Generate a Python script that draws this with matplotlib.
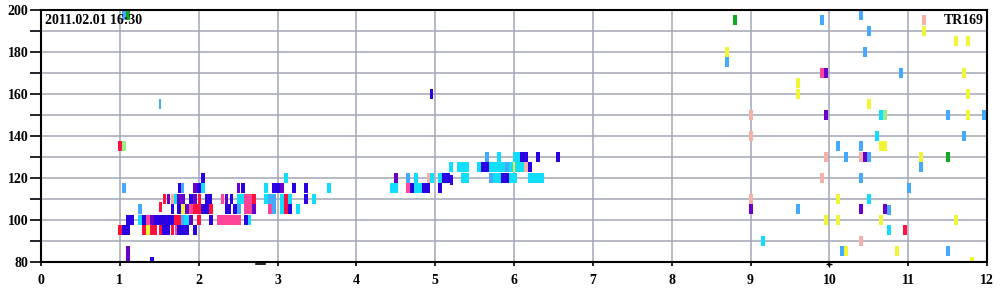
import matplotlib
matplotlib.use("Agg")
import matplotlib.pyplot as plt
from matplotlib.ticker import MultipleLocator

plt.rcParams['font.family'] = ['Liberation Serif', 'DejaVu Serif']

# cells: (x_start, x_end, y_centre)
blue = [(1.03, 1.13, 95), (1.54, 1.64, 95), (1.72, 1.88, 95), (1.93, 1.98, 95),
        (1.08, 1.18, 100), (1.28, 1.33, 100), (1.43, 1.69, 100), (2.13, 2.18, 100),
        (2.575, 2.625, 100), (1.65, 1.69, 105), (1.72, 1.77, 105), (2.03, 2.13, 105),
        (2.33, 2.41, 105), (2.44, 2.49, 105), (3.13, 3.18, 105), (1.88, 1.93, 110),
        (2.08, 2.17, 110), (2.40, 2.44, 110), (2.575, 2.625, 110), (3.34, 3.39, 110),
        (1.74, 1.78, 115), (1.98, 2.03, 115), (2.54, 2.59, 115), (2.93, 3.03, 115),
        (3.18, 3.23, 115), (3.34, 3.39, 115), (2.03, 2.08, 120), (1.38, 1.43, 80),
        (4.68, 4.73, 115), (4.83, 4.93, 115), (5.04, 5.09, 115), (5.09, 5.19, 120),
        (5.19, 5.23, 119), (5.84, 5.94, 120), (5.58, 5.68, 125), (6.18, 6.23, 125),
        (6.08, 6.18, 130), (6.28, 6.33, 130), (6.53, 6.58, 130), (4.93, 4.97, 160)]
purple = [(1.38, 1.43, 100), (1.88, 1.93, 100), (1.83, 1.88, 105), (2.68, 2.73, 105),
          (1.60, 1.64, 110), (1.72, 1.83, 110), (2.33, 2.37, 110), (1.93, 1.98, 110),
          (1.93, 1.98, 115), (2.49, 2.525, 115), (3.03, 3.08, 115), (1.08, 1.13, 85),
          (1.08, 1.13, 82.5), (4.48, 4.53, 120), (9.93, 9.98, 170), (9.93, 9.98, 150),
          (8.98, 9.03, 105), (10.38, 10.43, 105), (10.43, 10.48, 130), (10.68, 10.73, 105)]
red = [(0.98, 1.03, 95), (1.28, 1.33, 95), (1.38, 1.47, 95), (1.50, 1.54, 95),
       (1.65, 1.69, 95), (1.69, 1.77, 100), (1.98, 2.03, 100), (1.50, 1.54, 106),
       (1.93, 1.98, 105), (1.98, 2.03, 105), (2.13, 2.18, 105), (1.55, 1.59, 110),
       (1.99, 2.03, 110), (2.68, 2.73, 110), (3.08, 3.13, 110), (3.08, 3.13, 105),
       (0.98, 1.03, 135), (10.93, 10.98, 95)]
pink = [(1.70, 1.72, 95), (1.33, 1.38, 100), (2.23, 2.54, 100), (1.88, 1.93, 105),
        (2.575, 2.68, 105), (2.88, 2.93, 105), (2.28, 2.32, 110), (2.575, 2.68, 110),
        (4.63, 4.68, 115), (9.88, 9.93, 170)]
salmon = [(1.65, 1.69, 110), (4.90, 4.93, 120), (6.13, 6.18, 125), (8.98, 9.03, 150),
          (8.98, 9.03, 140), (8.98, 9.03, 110), (9.93, 9.98, 130), (9.88, 9.93, 120),
          (10.38, 10.43, 130), (10.38, 10.43, 90), (11.18, 11.23, 195)]
yellow = [(1.33, 1.38, 95), (1.77, 1.83, 105), (5.99, 6.01, 125), (8.68, 8.73, 180),
          (9.58, 9.63, 165), (9.58, 9.63, 160), (11.18, 11.23, 190), (11.58, 11.63, 185),
          (11.73, 11.79, 185), (11.68, 11.73, 170), (11.73, 11.79, 160), (11.99, 12.05, 160),
          (10.48, 10.53, 155), (11.73, 11.79, 150), (11.99, 12.05, 145), (10.63, 10.73, 135),
          (11.14, 11.19, 130), (10.08, 10.13, 110), (9.93, 9.98, 100), (10.08, 10.13, 100),
          (10.63, 10.68, 100), (11.58, 11.63, 100), (10.19, 10.24, 85), (10.83, 10.88, 85),
          (11.78, 11.83, 80)]
cyan = [(1.23, 1.28, 100), (1.82, 1.88, 100), (2.625, 2.665, 100), (1.69, 1.72, 110),
        (2.49, 2.575, 110), (3.44, 3.49, 110), (3.13, 3.18, 110), (3.23, 3.28, 105),
        (3.03, 3.08, 105), (3.03, 3.08, 110), (2.83, 2.88, 110), (2.83, 2.88, 115),
        (2.03, 2.08, 115), (3.63, 3.68, 115), (3.08, 3.13, 120),
        (4.43, 4.53, 115), (4.73, 4.83, 115), (4.73, 4.78, 120), (4.93, 4.99, 120),
        (5.04, 5.09, 120), (5.33, 5.43, 120), (5.73, 5.84, 120), (5.94, 6.04, 120),
        (6.18, 6.38, 120), (5.18, 5.23, 125), (5.28, 5.43, 125), (5.53, 5.58, 125),
        (5.68, 5.89, 125), (5.94, 5.99, 125), (6.01, 6.13, 125), (5.78, 5.84, 130),
        (5.99, 6.08, 130), (9.13, 9.18, 90), (10.63, 10.68, 150), (10.58, 10.63, 140),
        (10.48, 10.53, 110), (10.73, 10.78, 95)]
lightblue = [(1.77, 1.82, 100), (1.23, 1.28, 105), (2.49, 2.54, 105), (2.93, 2.98, 105),
             (2.88, 2.98, 110), (1.03, 1.08, 115), (1.78, 1.81, 115), (1.497, 1.52, 155),
             (1.03, 1.08, 197.5), (4.63, 4.68, 120), (5.63, 5.68, 130), (5.89, 5.94, 125),
             (5.68, 5.73, 120), (8.68, 8.73, 175), (9.88, 9.93, 195), (10.38, 10.43, 197.5),
             (10.48, 10.53, 190), (10.43, 10.48, 180), (10.88, 10.93, 170), (11.48, 11.53, 150),
             (11.94, 11.99, 150), (11.68, 11.73, 140), (10.08, 10.13, 135), (10.19, 10.24, 130),
             (10.38, 10.43, 135), (10.48, 10.53, 130), (11.14, 11.19, 125), (10.38, 10.43, 120),
             (10.98, 11.03, 115), (9.58, 9.63, 105), (10.73, 10.78, 104.5), (10.14, 10.19, 85),
             (11.48, 11.53, 85)]
lightgreen = [(1.03, 1.08, 135), (10.68, 10.73, 150)]
green = [(1.08, 1.13, 197.5), (8.78, 8.83, 195), (11.48, 11.53, 130)]

series = [(blue, '#2b00e3'), (purple, '#6a00cc'), (red, '#ff1040'), (pink, '#ff4499'),
          (salmon, '#f5b0a8'), (yellow, '#f0f535'), (cyan, '#11ddff'),
          (lightblue, '#44aaff'), (lightgreen, '#99ee88'), (green, '#11aa22')]

label_time = "2011.02.01 16:30"
label_station = "TR169"

fig = plt.figure(figsize=(10, 3), dpi=100)
ax = fig.add_axes([0.041, 0.127, 0.946, 0.84])

cell_h = 4.8
for cells, col in series:
    xs = [c[0] for c in cells]
    ws = [c[1] - c[0] for c in cells]
    bs = [c[2] - cell_h / 2 for c in cells]
    ax.bar(xs, cell_h, width=ws, bottom=bs, align='edge', color=col, linewidth=0)

ax.set_xlim(0, 12)
ax.set_ylim(80, 200)
ax.xaxis.set_major_locator(MultipleLocator(1))
ax.yaxis.set_major_locator(MultipleLocator(20))
ax.yaxis.set_minor_locator(MultipleLocator(10))
ax.set_axisbelow(True)
ax.grid(True, which='both', color='#a3a6b5', linewidth=1.1)

ax.tick_params(axis='y', which='both', length=8, width=1.2, pad=1, labelsize=10)
ax.tick_params(axis='x', length=3, width=1.2, pad=6, labelsize=10)
for lab in ax.get_xticklabels() + ax.get_yticklabels():
    lab.set_fontweight('bold')
for s in ax.spines.values():
    s.set_linewidth(1.5)
    s.set_color('black')

# small marks below the axis
ax.plot([2.73, 2.84], [79, 79], color='black', lw=1.2, clip_on=False)
ax.plot([10], [79], marker='+', color='black', ms=5, mew=1.0, clip_on=False)

ax.text(0.004, 0.985, label_time, transform=ax.transAxes, ha='left', va='top',
        fontsize=10, fontweight='bold')
ax.text(0.997, 0.985, label_station, transform=ax.transAxes, ha='right', va='top',
        fontsize=10, fontweight='bold')

fig.savefig('out.png', dpi=100)
